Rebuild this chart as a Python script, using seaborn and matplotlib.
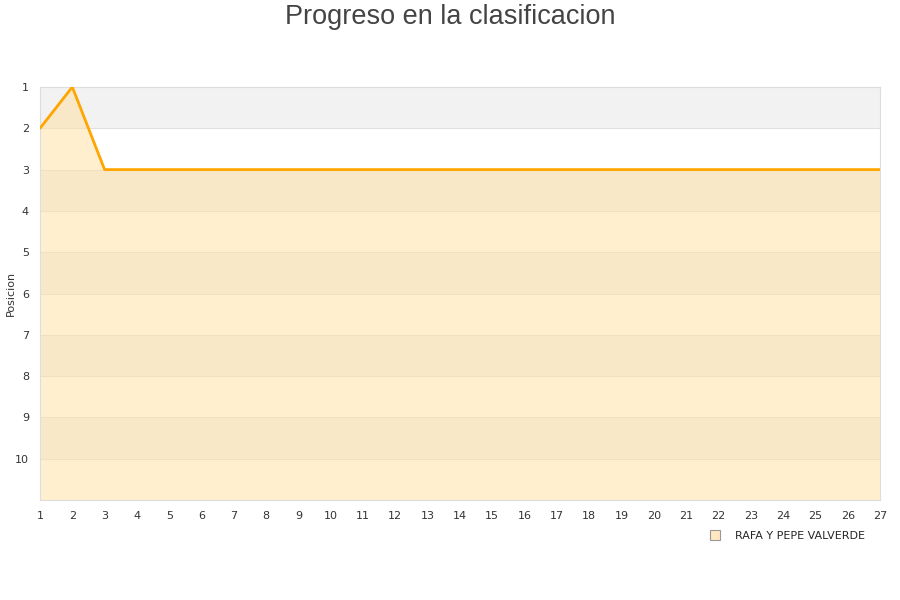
import matplotlib
matplotlib.use('Agg')
import matplotlib.pyplot as plt
import seaborn as sns
import pandas as pd

jornadas = list(range(1, 28))
posicion = [2, 1] + [3] * 25
equipo = 'RAFA Y PEPE VALVERDE'

df = pd.DataFrame({'Jornada': jornadas, 'Posicion': posicion})

sns.set_style('white')
plt.rcParams['font.family'] = ['DejaVu Sans']

fig = plt.figure(figsize=(9, 6), dpi=100)
ax = fig.add_axes([40 / 900, 100 / 600, 840 / 900, 413 / 600])

# franjas alternas de fondo
for y0 in range(1, 11, 2):
    ax.axhspan(y0, y0 + 1, color='#f2f2f2', zorder=0, lw=0)
for y0 in range(2, 11):
    ax.axhline(y0, color='#e0e0e0', lw=0.8, zorder=0.5)

ax.fill_between(df['Jornada'], df['Posicion'], 11, color='#ffe0a0', alpha=0.5, lw=0, zorder=1)
sns.lineplot(data=df, x='Jornada', y='Posicion', color='#ffa500', lw=2, ax=ax, zorder=3)

ax.set_xlim(1, 27)
ax.set_ylim(11, 1)
ax.set_xticks(jornadas)
ax.set_yticks(range(1, 11))
ax.tick_params(labelsize=8, colors='#333333', length=0, pad=8)
ax.set_xlabel('')
ax.set_ylabel('Posicion', fontsize=8, color='#333333')
ax.yaxis.set_label_coords(-24 / 840, 0.5)
for s in ax.spines.values():
    s.set_color('#dddddd')

fig.suptitle('Progreso en la clasificacion', fontsize=19.5, color='#444444',
             family='Liberation Sans', y=0.993)

handle = plt.Line2D([], [], marker='s', ls='', markersize=7,
                    markerfacecolor='#ffe8c0', markeredgecolor='#999999', markeredgewidth=0.8)
fig.legend([handle], [equipo], loc='center', bbox_to_anchor=(784 / 900, 1 - 536 / 600),
           frameon=False, fontsize=8, handletextpad=0.8)

fig.savefig('out.png', dpi=100)
